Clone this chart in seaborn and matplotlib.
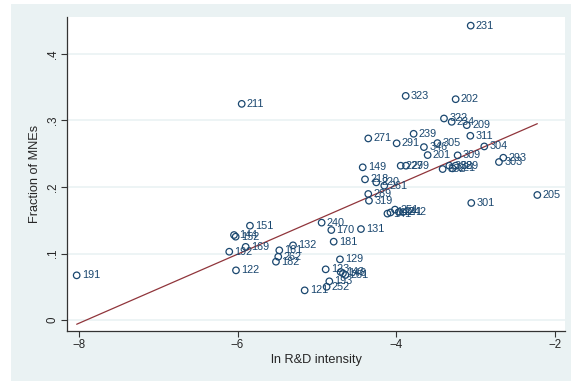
import numpy as np
import pandas as pd
import matplotlib
matplotlib.use('Agg')
import matplotlib.pyplot as plt
from matplotlib.patches import Rectangle
import seaborn as sns

# industry codes, ln R&D intensity, fraction of MNEs
codes = ['231', '211', '323', '202', '322', '234', '209', '311', '304', '309',
         '293', '303', '271', '239', '291', '305', '346', '201', '149', '229',
         '279', '332', '338', '329', '221', '218', '220', '261', '289', '319',
         '205', '301', '141', '142', '251', '241', '242', '240', '170', '131',
         '181', '129', '123', '143', '148', '281', '193', '252', '121', '132',
         '161', '262', '182', '151', '144', '152', '169', '192', '122', '191']
ln_rd = [-3.06, -5.948, -3.88, -3.25, -3.397, -3.30, -3.11, -3.065, -2.889, -3.225,
         -2.649, -2.704, -4.352, -3.78, -3.994, -3.48, -3.65, -3.603, -4.422, -3.943,
         -3.876, -3.414, -3.33, -3.25, -3.29, -4.393, -4.251, -4.15, -4.352, -4.343,
         -2.22, -3.053, -4.110, -4.072, -4.015, -3.965, -3.914, -4.94, -4.818, -4.444,
         -4.788, -4.709, -4.889, -4.70, -4.671, -4.64, -4.843, -4.877, -5.154, -5.301,
         -5.474, -5.487, -5.516, -5.844, -6.045, -6.024, -5.898, -6.105, -6.02, -8.029]
frac_mne = [0.4426, 0.325, 0.337, 0.332, 0.303, 0.298, 0.293, 0.277, 0.261, 0.2476,
            0.244, 0.2376, 0.273, 0.280, 0.2657, 0.266, 0.260, 0.248, 0.2296, 0.232,
            0.232, 0.227, 0.232, 0.232, 0.228, 0.2115, 0.207, 0.202, 0.1895, 0.1794,
            0.188, 0.176, 0.160, 0.1617, 0.166, 0.1624, 0.1624, 0.1464, 0.1353, 0.1368,
            0.1178, 0.0912, 0.0762, 0.0722, 0.0702, 0.0677, 0.0582, 0.050, 0.0446, 0.1123,
            0.1048, 0.0952, 0.0877, 0.1418, 0.1278, 0.1253, 0.110, 0.1027, 0.0747, 0.0672]

y_ticks = [0, 0.1, 0.2, 0.3, 0.4]
y_tick_labels = ['0', '.1', '.2', '.3', '.4']
x_ticks = [-8, -6, -4, -2]

df = pd.DataFrame({'code': codes, 'ln_rd': ln_rd, 'frac': frac_mne})

navy = '#1a476f'
maroon = '#90353b'
bg = '#eaf2f3'

sns.set_style('white')
plt.rcParams['font.family'] = ['Liberation Sans', 'DejaVu Sans']

fig = plt.figure(figsize=(5.71, 3.81), dpi=100, facecolor='white')
fig.patches.append(Rectangle((11 / 571, 0), 1, 1 - 4 / 381, transform=fig.transFigure,
                             facecolor=bg, edgecolor='none', zorder=-10))
ax = fig.add_axes([67 / 571, 1 - 331 / 381, (565 - 67) / 571, (331 - 17) / 381])
ax.set_facecolor('white')

# horizontal grid like Stata s2color
for t in y_ticks:
    ax.axhline(t, color=bg, lw=1.2, zorder=0)

sns.scatterplot(data=df, x='ln_rd', y='frac', ax=ax, marker='o', s=22,
                facecolors='none', edgecolor=navy, linewidth=0.9, zorder=3)
for _, r in df.iterrows():
    ax.annotate(r['code'], (r['ln_rd'], r['frac']), xytext=(3.8, 0),
                textcoords='offset points', va='center', ha='left',
                fontsize=7.8, color=navy, zorder=4)

sns.regplot(data=df, x='ln_rd', y='frac', ax=ax, scatter=False, ci=None,
            line_kws=dict(color=maroon, lw=0.9), truncate=True)

ax.set_xlim(-8.151, -1.871)
ax.set_ylim(-0.0165, 0.4556)
ax.set_xticks(x_ticks)
ax.set_xticklabels([f'\u2212{abs(v)}' for v in x_ticks])
ax.set_yticks(y_ticks)
ax.set_yticklabels(y_tick_labels, rotation=90, va='center')
ax.tick_params(axis='both', direction='out', length=4, width=0.8, color='#333333',
               labelsize=8.3, pad=2, bottom=True, left=True)

for s in ['top', 'right']:
    ax.spines[s].set_visible(False)
for s in ['left', 'bottom']:
    ax.spines[s].set_color('#333333')
    ax.spines[s].set_linewidth(0.9)

ax.set_xlabel('ln R&D intensity', fontsize=9.2, labelpad=2)
ax.set_ylabel('Fraction of MNEs', fontsize=9.2, labelpad=4)

fig.savefig('out.png', dpi=100, facecolor='white')
